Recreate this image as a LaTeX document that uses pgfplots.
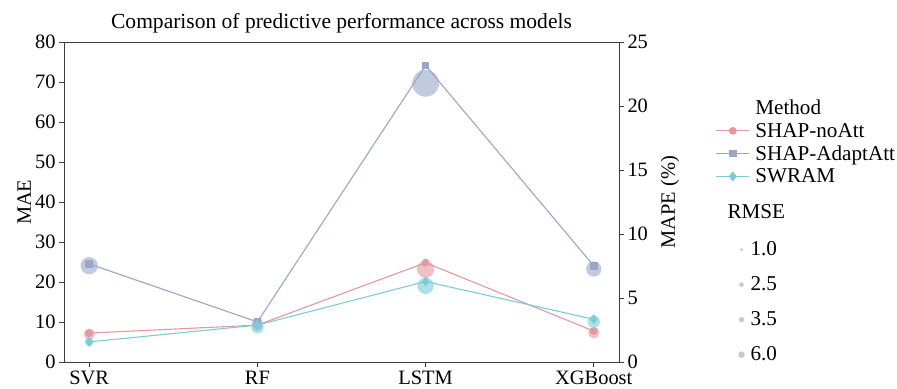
\documentclass[border=0pt]{standalone}
\usepackage{fontspec}
\setmainfont{Liberation Serif}
\usepackage{pgfplots}
\pgfplotsset{compat=1.18}
\usepackage{pgfplotstable}

\definecolor{cNo}{RGB}{226,152,160}
\definecolor{cAd}{RGB}{152,166,200}
\definecolor{cSw}{RGB}{124,204,216}
\definecolor{spine}{RGB}{60,60,60}
\definecolor{rmsegray}{RGB}{200,200,200}

% columns: model index, MAE, MAPE (%), bubble radius (bp) scaled from RMSE
\pgfplotstableread{
x mae mape size
0 7.3 2.20 5.7
1 9.3 2.85 5.2
2 24.9 7.27 8.7
3 7.8 2.31 5.7
}\noatt
\pgfplotstableread{
x mae mape size
0 24.6 7.55 8.7
1 10.1 3.05 5.6
2 74.2 21.80 13.5
3 24.1 7.29 7.7
}\adapt
\pgfplotstableread{
x mae mape size
0 5.1 1.60 4.5
1 9.3 2.73 6.3
2 20.2 5.98 8.3
3 10.75 3.17 6.3
}\swram

\pgfplotsset{
  common/.style={
    width=555bp, height=320bp, scale only axis,
    at={(64bp,26.7bp)}, anchor=south west,
    xmin=-0.15, xmax=3.15,
    tick align=outside, major tick length=5bp,
    every tick/.style={spine, line width=0.8bp},
    tick label style={font=\fontsize{20.5}{24}\selectfont},
    label style={font=\fontsize{20.5}{24}\selectfont},
    /pgf/number format/assume math mode=true,
  },
  bubble/.style={
    scatter, only marks, mark=*, forget plot,
    scatter/use mapped color={draw=#1, fill=#1, draw opacity=0, fill opacity=0.6},
    visualization depends on={\thisrow{size}\as\msize},
    scatter/@pre marker code/.append style={/tikz/mark size=\msize},
  },
  rmsedot/.style={only marks, mark=*, color=rmsegray, mark size=#1},
}

\begin{document}
\begin{tikzpicture}
\useasboundingbox (0,0) rectangle (897bp,389bp);

% MAPE bubbles, sized by RMSE (right axis)
\begin{axis}[common,
  axis x line=none, axis y line*=right,
  axis line style={spine, line width=0.8bp},
  ymin=0, ymax=25, ytick={0,5,...,25},
  ylabel={MAPE (\%)},
  ylabel style={at={(axis description cs:1.092,0.5)}, anchor=center, rotate=0},
  legend style={at={(axis description cs:1.215,0.38)}, anchor=north west,
    draw=none, fill=none, inner sep=0pt, row sep=17.5bp, column sep=5bp,
    font=\fontsize{21.2}{24}\selectfont,
    nodes={inner sep=1bp}},
  legend cell align=left,
  legend image code/.code={\draw[#1] plot coordinates {(6bp,0bp)};},
]
\addplot[bubble=cNo] table[x=x, y=mape] {\noatt};
\addplot[bubble=cAd] table[x=x, y=mape] {\adapt};
\addplot[bubble=cSw] table[x=x, y=mape] {\swram};
\addlegendimage{rmsedot=1.3bp}\addlegendentry{1.0}
\addlegendimage{rmsedot=2.0bp}\addlegendentry{2.5}
\addlegendimage{rmsedot=2.4bp}\addlegendentry{3.5}
\addlegendimage{rmsedot=3.0bp}\addlegendentry{6.0}
\end{axis}

% MAE lines (left axis)
\begin{axis}[common,
  axis line style={spine, line width=0.8bp},
  ymin=0, ymax=80, ytick={0,10,...,80},
  xtick={0,1,2,3}, xticklabels={SVR,RF,LSTM,XGBoost},
  xtick pos=bottom, ytick pos=left,
  ylabel={MAE},
  ylabel style={at={(axis description cs:-0.072,0.5)}, anchor=center},
  title={Comparison of predictive performance across models},
  title style={font=\fontsize{21.6}{25}\selectfont, at={(axis description cs:0.5,1)}, anchor=south, yshift=0bp},
  legend style={at={(axis description cs:1.174,0.825)}, anchor=north west,
    draw=none, fill=none, inner sep=0pt, row sep=4bp, column sep=4bp,
    font=\fontsize{21.2}{24}\selectfont,
    nodes={inner sep=1.5bp}},
  legend cell align=left,
  legend image code/.code={\draw[mark repeat=2, mark phase=2, #1] plot coordinates {(0bp,0bp) (16.5bp,0bp) (33bp,0bp)};},
]
\addlegendimage{empty legend}\addlegendentry{Method}
\addplot[cNo, line width=1.1bp, mark=*, mark size=3.3bp, mark options={draw=cNo, fill=cNo}] table[x=x, y=mae] {\noatt};
\addlegendentry{SHAP-noAtt}
\addplot[cAd, line width=1.1bp, mark=square*, mark size=3.2bp, mark options={draw=cAd, fill=cAd}] table[x=x, y=mae] {\adapt};
\addlegendentry{SHAP-AdaptAtt}
\addplot[cSw, line width=1.1bp, mark=diamond*, mark size=4.2bp, mark options={draw=cSw, fill=cSw}] table[x=x, y=mae] {\swram};
\addlegendentry{SWRAM}
\end{axis}

\node[anchor=west, font=\fontsize{21.2}{24}\selectfont] at (724bp,177bp) {RMSE};
\end{tikzpicture}
\end{document}
